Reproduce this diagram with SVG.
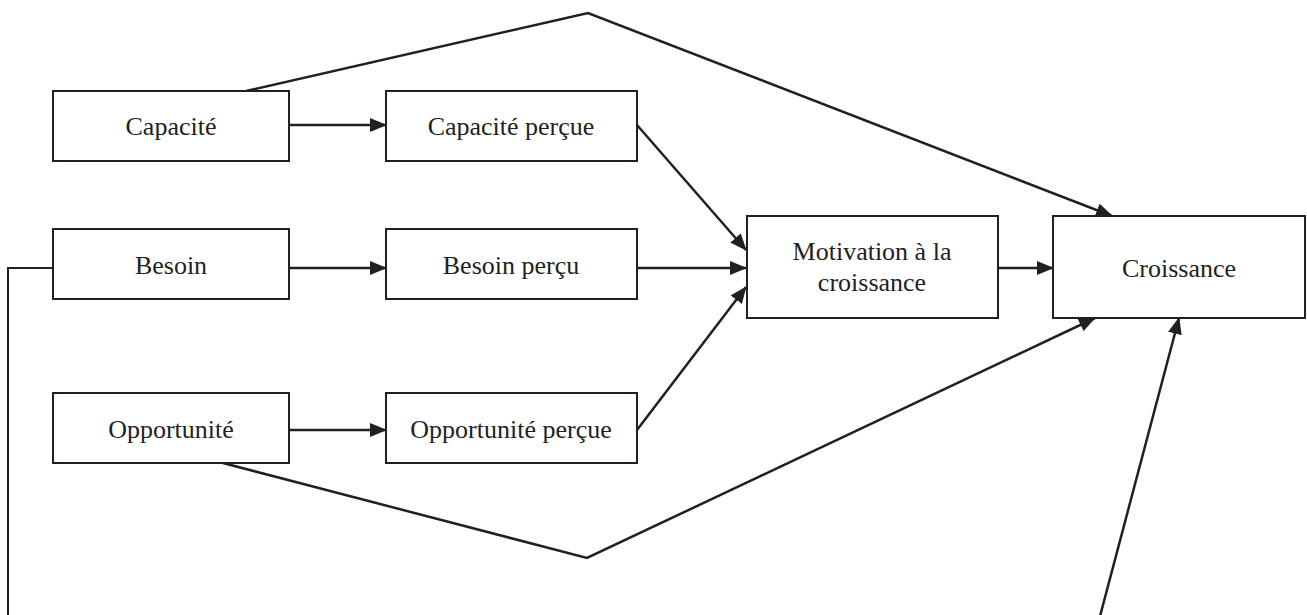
<svg xmlns="http://www.w3.org/2000/svg" width="1307" height="615" viewBox="0 0 1307 615">
  <style>
    .box { fill: #fff; stroke: #231f20; stroke-width: 2; }
    .lbl { font-family: "Liberation Serif", "Times New Roman", serif; font-size: 26px; fill: #231f20; text-anchor: middle; }
    .arrow { fill: none; stroke: #231f20; stroke-width: 2.5; marker-end: url(#head); }
    .link { fill: none; stroke: #231f20; stroke-width: 2; }
  </style>
  <defs>
    <marker id="head" markerUnits="userSpaceOnUse" markerWidth="17" markerHeight="14" refX="16" refY="7" orient="auto">
      <path d="M0,0 L17,7 L0,14 z" fill="#231f20"/>
    </marker>
  </defs>

  <g id="connectors">
    <!-- overarching path from Capacité to Croissance -->
    <polyline class="arrow" stroke-width="2" points="246,91 588,13 1112,216" />
    <line class="arrow" x1="289" y1="125" x2="386" y2="125" />
    <line class="arrow" x1="637" y1="125" x2="746" y2="250" />
    <line class="arrow" x1="289" y1="268" x2="386" y2="268" />
    <line class="arrow" x1="637" y1="268" x2="746" y2="268" />
    <line class="arrow" x1="289" y1="430" x2="386" y2="430" />
    <line class="arrow" x1="637" y1="430" x2="746" y2="287" />
    <line class="arrow" x1="998" y1="268" x2="1053" y2="268" />
    <!-- Opportunité to Croissance -->
    <polyline class="arrow" stroke-width="2" points="223,463 587,558 1095,318" />
    <!-- Besoin loop along the bottom -->
    <polyline class="link" points="52,268 8,268 8,620" />
    <line class="arrow" stroke-width="2" x1="1099" y1="620" x2="1179" y2="318" />
  </g>

  <g id="capacite">
    <rect class="box" x="53" y="91" width="236" height="70" />
    <text class="lbl" x="171" y="135">Capacité</text>
  </g>
  <g id="capacite-percue">
    <rect class="box" x="386" y="91" width="251" height="70" />
    <text class="lbl" x="511" y="135">Capacité perçue</text>
  </g>
  <g id="besoin">
    <rect class="box" x="53" y="229" width="236" height="70" />
    <text class="lbl" x="171" y="274">Besoin</text>
  </g>
  <g id="besoin-percu">
    <rect class="box" x="386" y="229" width="251" height="70" />
    <text class="lbl" x="511" y="274">Besoin perçu</text>
  </g>
  <g id="opportunite">
    <rect class="box" x="53" y="393" width="236" height="70" />
    <text class="lbl" x="171" y="438">Opportunité</text>
  </g>
  <g id="opportunite-percue">
    <rect class="box" x="386" y="393" width="251" height="70" />
    <text class="lbl" x="511" y="438">Opportunité perçue</text>
  </g>
  <g id="motivation">
    <rect class="box" x="747" y="216" width="251" height="102" />
    <text class="lbl" x="872" y="260">Motivation à la</text>
    <text class="lbl" x="872" y="291">croissance</text>
  </g>
  <g id="croissance">
    <rect class="box" x="1053" y="216" width="252" height="102" />
    <text class="lbl" x="1179" y="277">Croissance</text>
  </g>
</svg>
